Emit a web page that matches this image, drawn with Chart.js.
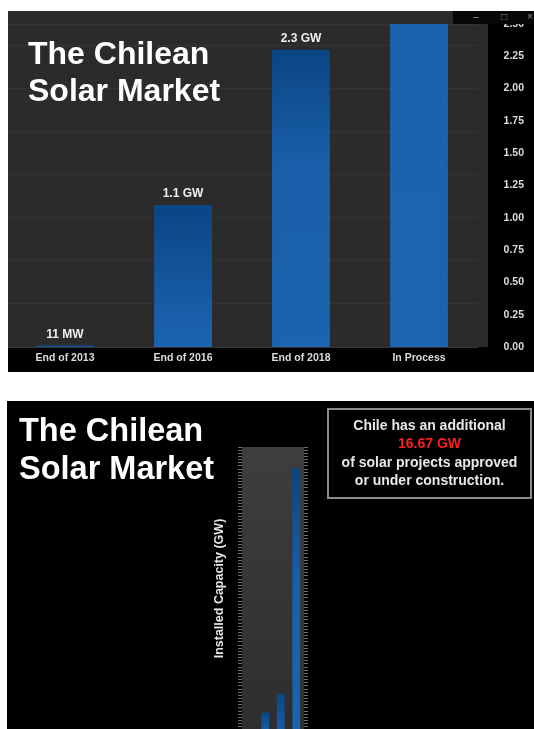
<!DOCTYPE html>
<html>
<head>
<meta charset="utf-8">
<script src="https://cdn.jsdelivr.net/npm/chart.js@4.4.1/dist/chart.umd.min.js"></script>
<style>
  html, body { margin: 0; padding: 0; }
  body {
    width: 534px; height: 729px; overflow: hidden; position: relative;
    background: #ffffff;
    font-family: "Liberation Sans", Arial, Helvetica, sans-serif;
  }
  .panel { position: absolute; background: #000; overflow: hidden; }
  .plotBg { position: absolute; background: #2b2b2b; }
  .heading {
    position: absolute; color: #fff; font-weight: bold;
    white-space: nowrap;
  }
  .chartBox { position: absolute; }
  .winCtl {
    position: absolute; left: 453px; top: 11px; width: 81px; height: 13px;
    background: #070707; color: #8a8a8a; font-size: 10px; line-height: 12px;
  }
  .winCtl span { position: absolute; top: 0; }
  .note {
    position: absolute; left: 327px; top: 408px; width: 201px; height: 81px;
    border: 2px solid #8c8c8c; color: #e8e8e8; font-weight: bold;
    font-size: 14px; line-height: 18.3px; text-align: center;
    padding-top: 6px; box-sizing: content-box;
  }
  .note .hl { color: #ff1e1e; }
</style>
</head>
<body>

<!-- upper frame -->
<div class="panel" style="left:8px; top:11px; width:526px; height:361px;">
  <div class="plotBg" style="left:0px; top:0px; width:480px; height:336px;"></div>
  <div class="chartBox" style="left:-2px; top:0px; width:528px; height:361px;">
    <canvas id="topChart"></canvas>
  </div>
</div>
<div class="heading" style="left:28px; top:35px; font-size:32px; line-height:37px;">The Chilean<br>Solar Market</div>
<div class="winCtl"><span style="left:20px;">–</span><span style="left:48px;">□</span><span style="left:74px;">×</span></div>

<!-- lower frame -->
<div class="panel" style="left:7px; top:401px; width:527px; height:328px;"></div>
<div class="chartBox" style="left:200px; top:430px; width:130px; height:330px;">
  <canvas id="bottomChart"></canvas>
</div>
<div class="heading" style="left:19px; top:411px; font-size:32.5px; line-height:38px;">The Chilean<br>Solar Market</div>
<div class="note">Chile has an additional<br><span class="hl">16.67 GW</span><br>of solar projects approved<br>or under construction.</div>

<script>
// installed solar capacity, GW
const categories = ['End of 2013', 'End of 2016', 'End of 2018', 'In Process'];
const capacityGW = [0.011, 1.1, 2.3, 16.67];
const valueLabels = ['11 MW', '1.1 GW', '2.3 GW', ''];

// axis ranges
const topAxisMax = 2.5;
const topAxisStep = 0.25;
const bottomAxisMax = 18;
const bottomTickStep = 0.2;

const FONT = '"Liberation Sans", Arial, Helvetica, sans-serif';

// darker at the top edge of each bar, lighter further down
function barFill(context) {
  const chart = context.chart;
  const y = chart.scales.y;
  if (!chart.chartArea || !y) return '#1a60ab';
  const top = y.getPixelForValue(context.raw);
  const base = y.getPixelForValue(0);
  if (!(base > top)) return '#1a60ab';
  const g = chart.ctx.createLinearGradient(0, top, 0, base);
  const mid = Math.min(1, 110 / (base - top));
  g.addColorStop(0, '#0a4583');
  g.addColorStop(mid, '#195ea8');
  g.addColorStop(1, '#1c64b0');
  return g;
}

const valueLabelPlugin = {
  id: 'valueLabels',
  afterDatasetsDraw(chart, args, opts) {
    if (!opts.labels) return;
    const ctx = chart.ctx;
    const meta = chart.getDatasetMeta(0);
    ctx.save();
    ctx.font = 'bold 12px ' + FONT;
    ctx.fillStyle = '#f0f0f0';
    ctx.textAlign = 'center';
    ctx.textBaseline = 'alphabetic';
    meta.data.forEach((bar, i) => {
      const t = opts.labels[i];
      if (t) ctx.fillText(t, bar.x, bar.y - 8);
    });
    ctx.restore();
  }
};

const plotBgPlugin = {
  id: 'plotBg',
  beforeDraw(chart, args, opts) {
    if (!opts.colors) return;
    const {ctx, chartArea: a} = chart;
    const g = ctx.createLinearGradient(0, a.top, 0, a.bottom);
    g.addColorStop(0, opts.colors[0]);
    g.addColorStop(1, opts.colors[1]);
    ctx.save();
    ctx.fillStyle = g;
    ctx.fillRect(a.left, a.top, a.right - a.left, a.bottom - a.top);
    ctx.restore();
  }
};

Chart.register(valueLabelPlugin, plotBgPlugin);

new Chart(document.getElementById('topChart'), {
  type: 'bar',
  data: {
    labels: categories,
    datasets: [{
      data: capacityGW,
      backgroundColor: barFill,
      barPercentage: 0.49,
      categoryPercentage: 1,
      clip: 0
    }]
  },
  options: {
    animation: false,
    responsive: true,
    maintainAspectRatio: false,
    layout: { padding: { left: 0, top: 13, right: 10, bottom: 0 } },
    plugins: {
      legend: { display: false },
      tooltip: { enabled: false },
      valueLabels: { labels: valueLabels }
    },
    scales: {
      x: {
        grid: { display: false, drawTicks: false },
        border: { display: false },
        ticks: {
          color: '#dcdcdc', padding: 5, maxRotation: 0,
          font: { family: FONT, size: 10.5, weight: 'bold' }
        },
        afterFit: s => { s.height = 25; }
      },
      y: {
        position: 'right',
        min: 0, max: topAxisMax,
        grid: { display: false, drawTicks: false },
        border: { display: false },
        ticks: {
          stepSize: topAxisStep, padding: 0, crossAlign: 'far', color: '#dcdcdc',
          font: { family: FONT, size: 10.5, weight: 'bold' },
          callback: v => Number(v).toFixed(2)
        },
        afterFit: s => { s.width = 46; }
      },
      // faint background rules
      yGrid: {
        position: 'left',
        min: 0, max: topAxisMax,
        ticks: { display: false, stepSize: 1 / 3 },
        grid: { color: '#343434', drawTicks: false },
        border: { display: false },
        afterFit: s => { s.width = 0; }
      }
    }
  }
});

const edgeTicks = (position, width, withTitle) => ({
  position: position,
  min: 0, max: bottomAxisMax,
  ticks: { display: false, stepSize: bottomTickStep, maxTicksLimit: 91 },
  grid: { drawOnChartArea: false, drawTicks: true, tickLength: 4, color: '#6e6e6e' },
  border: { display: false },
  title: {
    display: withTitle,
    text: 'Installed Capacity (GW)',
    color: '#e6e6e6',
    font: { family: FONT, size: 12.5, weight: 'bold' },
    padding: { top: 12, bottom: 0 }
  },
  afterFit: s => { s.width = width; }
});

new Chart(document.getElementById('bottomChart'), {
  type: 'bar',
  data: {
    labels: categories,
    datasets: [{
      data: capacityGW,
      backgroundColor: barFill,
      barPercentage: 0.5,
      categoryPercentage: 1,
      clip: 0
    }]
  },
  options: {
    animation: false,
    responsive: true,
    maintainAspectRatio: false,
    layout: { padding: { left: 0, top: 17, right: 0, bottom: 30 } },
    plugins: {
      legend: { display: false },
      tooltip: { enabled: false },
      plotBg: { colors: ['#3e3e3e', '#2e2e2e'] }
    },
    scales: {
      x: { display: false },
      y: edgeTicks('left', 42, true),
      y2: edgeTicks('right', 26, false)
    }
  }
});
</script>
</body>
</html>
